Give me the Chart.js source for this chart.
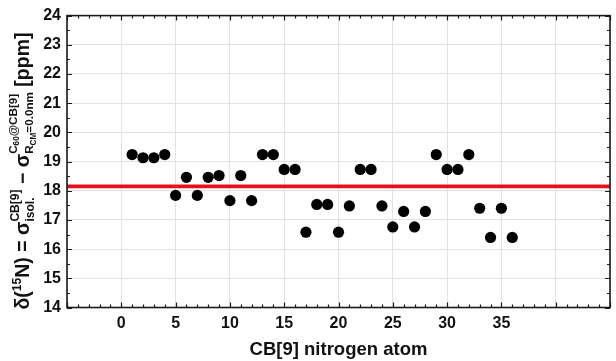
<!DOCTYPE html>
<html>
<head>
<meta charset="utf-8">
<script src="https://cdn.jsdelivr.net/npm/chart.js@4.4.1/dist/chart.umd.min.js"></script>
<style>
  html, body { margin: 0; padding: 0; background: #ffffff; }
  #wrap { width: 616px; height: 361px; position: relative; }
</style>
</head>
<body>
<div id="wrap"><canvas id="shiftChart"></canvas></div>
<script>
// ============================================================
// CB[9] nitrogen shielding shifts - scatter + mean line
// ============================================================

const NITROGEN_ATOMS = [
  1, 2, 3, 4, 5, 6, 7, 8, 9, 10, 11, 12,
  13, 14, 15, 16, 17, 18, 19, 20, 21, 22, 23, 24,
  25, 26, 27, 28, 29, 30, 31, 32, 33, 34, 35, 36
];

const SHIFT_PPM = [
  19.24, 19.13, 19.13, 19.24, 17.84, 18.46, 17.84, 18.46, 18.52, 17.66, 18.52, 17.66,
  19.24, 19.24, 18.73, 18.73, 16.58, 17.53, 17.53, 16.58, 17.48, 18.73, 18.73, 17.48,
  16.76, 17.29, 16.76, 17.29, 19.24, 18.73, 18.73, 19.24, 17.40, 16.40, 17.40, 16.40
];

const REFERENCE_SHIFT = 18.15;

const X_RANGE = [-5, 45];
const X_LABELLED = [0, 5, 10, 15, 20, 25, 30, 35];
const Y_RANGE = [14, 24];

const FONT_FAMILY = '"Liberation Sans", Arial, Helvetica, sans-serif';

// ------------------------------------------------------------
// frame + inward ticks on all four sides
// ------------------------------------------------------------
const frameTicksPlugin = {
  id: "frameTicks",
  afterDraw(chart) {
    const { ctx, chartArea: a, scales } = chart;
    const xs = scales.x;
    const ys = scales.y;
    ctx.save();
    ctx.strokeStyle = "#1a1a1a";
    ctx.lineWidth = 1.2;

    for (let v = X_RANGE[0]; v <= X_RANGE[1]; v += 1) {
      const px = Math.round(xs.getPixelForValue(v)) + 0.5;
      const len = v % 5 === 0 ? 5 : 3;
      ctx.beginPath();
      ctx.moveTo(px, a.bottom);
      ctx.lineTo(px, a.bottom - len);
      ctx.moveTo(px, a.top);
      ctx.lineTo(px, a.top + len);
      ctx.stroke();
    }

    for (let v = Y_RANGE[0]; v <= Y_RANGE[1] + 1e-9; v += 0.5) {
      const py = Math.round(ys.getPixelForValue(v)) + 0.5;
      const len = Number.isInteger(v) ? 5 : 3;
      ctx.beginPath();
      ctx.moveTo(a.left, py);
      ctx.lineTo(a.left + len, py);
      ctx.moveTo(a.right, py);
      ctx.lineTo(a.right - len, py);
      ctx.stroke();
    }

    ctx.lineWidth = 1.6;
    ctx.strokeRect(a.left, a.top, a.right - a.left, a.bottom - a.top);
    ctx.restore();
  }
};

// ------------------------------------------------------------
// rotated y title with stacked super/subscripts
// ------------------------------------------------------------
function run(t, s, dy) {
  return { t, s, dy };
}

const Y_TITLE_PARTS = [
  [run("δ(", 1, 0)],
  [run("15", 0.62, 0.42)],
  [run("N) = σ", 1, 0)],
  { top: [run("CB[9]", 0.62, 0.5)], bot: [run("isol.", 0.62, -0.28)] },
  [run(" − σ", 1, 0)],
  {
    top: [run("C", 0.6, 0.64), run("60", 0.42, 0.5), run("@CB[9]", 0.6, 0.64)],
    bot: [run("R", 0.6, -0.18), run("CM", 0.42, -0.36), run("=0.0nm", 0.6, -0.18)]
  },
  [run(" [ppm]", 1, 0)]
];

function runsWidth(ctx, runs, size) {
  return runs.reduce((w, r) => {
    ctx.font = `bold ${size * r.s}px ${FONT_FAMILY}`;
    return w + ctx.measureText(r.t).width;
  }, 0);
}

function drawRuns(ctx, runs, size, x0) {
  let x = x0;
  runs.forEach((r) => {
    ctx.font = `bold ${size * r.s}px ${FONT_FAMILY}`;
    ctx.fillText(r.t, x, -r.dy * size);
    x += ctx.measureText(r.t).width;
  });
}

const yTitlePlugin = {
  id: "yTitle",
  afterDraw(chart) {
    const ctx = chart.ctx;
    const size = 19.5;
    const widths = Y_TITLE_PARTS.map((p) => Array.isArray(p)
      ? runsWidth(ctx, p, size)
      : Math.max(runsWidth(ctx, p.top, size), runsWidth(ctx, p.bot, size)));
    const total = widths.reduce((s, w) => s + w, 0);

    ctx.save();
    ctx.fillStyle = "#111111";
    ctx.textBaseline = "alphabetic";
    ctx.textAlign = "left";
    ctx.translate(29, 171);
    ctx.rotate(-Math.PI / 2);
    let x = -total / 2;
    Y_TITLE_PARTS.forEach((p, i) => {
      if (Array.isArray(p)) {
        drawRuns(ctx, p, size, x);
      } else {
        drawRuns(ctx, p.top, size, x);
        drawRuns(ctx, p.bot, size, x);
      }
      x += widths[i];
    });
    ctx.restore();
  }
};

// ------------------------------------------------------------
// chart
// ------------------------------------------------------------
const points = NITROGEN_ATOMS.map((n, i) => ({ x: n, y: SHIFT_PPM[i] }));
const refLine = X_RANGE.map((x) => ({ x, y: REFERENCE_SHIFT }));

new Chart(document.getElementById("shiftChart").getContext("2d"), {
  type: "scatter",
  data: {
    datasets: [
      {
        label: "N shift",
        data: points,
        order: 0,
        backgroundColor: "#000000",
        borderWidth: 0,
        pointRadius: 5.6,
        pointHoverRadius: 5.6
      },
      {
        type: "line",
        label: "reference",
        data: refLine,
        order: 1,
        borderColor: "#e5101c",
        borderWidth: 3.8,
        pointRadius: 0,
        fill: false
      }
    ]
  },
  options: {
    responsive: true,
    maintainAspectRatio: false,
    animation: false,
    layout: {
      padding: { top: 15, right: 1, bottom: 0, left: 0 }
    },
    scales: {
      x: {
        type: "linear",
        min: X_RANGE[0],
        max: X_RANGE[1],
        afterFit: (scale) => { scale.height = 53.5; },
        ticks: {
          stepSize: 5,
          padding: 6,
          color: "#111111",
          font: { family: FONT_FAMILY, size: 16, weight: "bold" },
          callback: (v) => (X_LABELLED.includes(v) ? String(v) : "")
        },
        grid: { color: "#e2e2e2", lineWidth: 1, drawTicks: false },
        border: { display: false },
        title: {
          display: true,
          text: "CB[9] nitrogen atom",
          color: "#111111",
          padding: { top: 0, bottom: 0 },
          font: { family: FONT_FAMILY, size: 18.5, weight: "bold" }
        }
      },
      y: {
        type: "linear",
        min: Y_RANGE[0],
        max: Y_RANGE[1],
        afterFit: (scale) => { scale.width = 67; },
        ticks: {
          stepSize: 1,
          padding: 6,
          color: "#111111",
          font: { family: FONT_FAMILY, size: 16, weight: "bold" }
        },
        grid: { color: "#e2e2e2", lineWidth: 1, drawTicks: false },
        border: { display: false }
      }
    },
    plugins: {
      legend: { display: false },
      tooltip: { enabled: false }
    }
  },
  plugins: [frameTicksPlugin, yTitlePlugin]
});
</script>
</body>
</html>
